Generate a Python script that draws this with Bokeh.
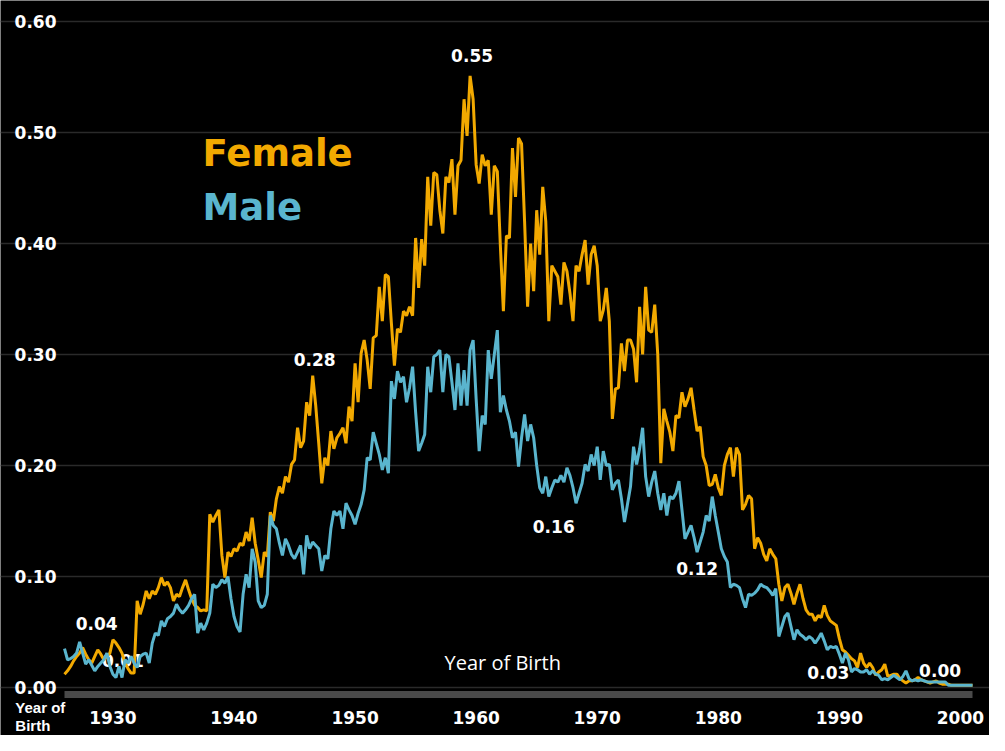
from bokeh.plotting import figure
from bokeh.models import Range1d, FixedTicker, NumeralTickFormatter, Label, ColumnDataSource
from bokeh.core.properties import value
from bokeh.embed import file_html
from bokeh.resources import INLINE

# ---------------- data (quarterly, year of birth) ----------------
start_year = 1926
step = 0.25

female = [
    0.012, 0.015, 0.019, 0.024,  # 1926
    0.028, 0.031, 0.036, 0.030,  # 1927
    0.025, 0.022, 0.028, 0.034,  # 1928
    0.030, 0.025, 0.028, 0.031,  # 1929
    0.043, 0.040, 0.036, 0.031,  # 1930
    0.022, 0.017, 0.013, 0.013,  # 1931
    0.078, 0.066, 0.075, 0.087,  # 1932
    0.080, 0.087, 0.084, 0.090,  # 1933
    0.099, 0.092, 0.095, 0.090,  # 1934
    0.078, 0.084, 0.082, 0.090,  # 1935
    0.097, 0.088, 0.080, 0.074,  # 1936
    0.072, 0.069, 0.070, 0.069,  # 1937
    0.156, 0.149, 0.155, 0.160,  # 1938
    0.119, 0.099, 0.122, 0.118,  # 1939
    0.125, 0.123, 0.130, 0.128,  # 1940
    0.140, 0.132, 0.153, 0.130,  # 1941
    0.115, 0.099, 0.122, 0.118,  # 1942
    0.158, 0.150, 0.170, 0.181,  # 1943
    0.175, 0.190, 0.185, 0.201,  # 1944
    0.205, 0.234, 0.216, 0.222,  # 1945
    0.257, 0.245, 0.281, 0.254,  # 1946
    0.220, 0.184, 0.207, 0.200,  # 1947
    0.231, 0.215, 0.225, 0.229,  # 1948
    0.234, 0.220, 0.253, 0.240,  # 1949
    0.292, 0.257, 0.301, 0.313,  # 1950
    0.295, 0.269, 0.315, 0.317,  # 1951
    0.361, 0.330, 0.372, 0.370,  # 1952
    0.328, 0.290, 0.323, 0.320,  # 1953
    0.339, 0.335, 0.343, 0.335,  # 1954
    0.405, 0.360, 0.404, 0.380,  # 1955
    0.460, 0.416, 0.464, 0.462,  # 1956
    0.430, 0.409, 0.460, 0.455,  # 1957
    0.476, 0.426, 0.470, 0.475,  # 1958
    0.530, 0.497, 0.551, 0.530,  # 1959
    0.471, 0.454, 0.480, 0.470,  # 1960
    0.475, 0.426, 0.470, 0.465,  # 1961
    0.398, 0.339, 0.407, 0.405,  # 1962
    0.486, 0.442, 0.495, 0.490,  # 1963
    0.420, 0.343, 0.400, 0.357,  # 1964
    0.430, 0.390, 0.451, 0.420,  # 1965
    0.330, 0.380, 0.375, 0.370,  # 1966
    0.345, 0.383, 0.375, 0.355,  # 1967
    0.330, 0.380, 0.375, 0.390,  # 1968
    0.403, 0.363, 0.390, 0.398,  # 1969
    0.380, 0.330, 0.340, 0.360,  # 1970
    0.330, 0.242, 0.269, 0.270,  # 1971
    0.310, 0.285, 0.313, 0.313,  # 1972
    0.305, 0.275, 0.343, 0.300,  # 1973
    0.361, 0.322, 0.320, 0.345,  # 1974
    0.300, 0.202, 0.251, 0.240,  # 1975
    0.230, 0.213, 0.245, 0.243,  # 1976
    0.266, 0.253, 0.260, 0.270,  # 1977
    0.250, 0.231, 0.235, 0.208,  # 1978
    0.200, 0.182, 0.183, 0.192,  # 1979
    0.180, 0.173, 0.200, 0.210,  # 1980
    0.216, 0.190, 0.216, 0.210,  # 1981
    0.160, 0.165, 0.173, 0.170,  # 1982
    0.125, 0.135, 0.130, 0.120,  # 1983
    0.114, 0.125, 0.120, 0.116,  # 1984
    0.093, 0.078, 0.090, 0.093,  # 1985
    0.085, 0.075, 0.085, 0.093,  # 1986
    0.080, 0.070, 0.066, 0.066,  # 1987
    0.060, 0.065, 0.063, 0.074,  # 1988
    0.065, 0.060, 0.058, 0.056,  # 1989
    0.044, 0.034, 0.032, 0.029,  # 1990
    0.026, 0.024, 0.018, 0.031,  # 1991
    0.022, 0.018, 0.022, 0.018,  # 1992
    0.011, 0.014, 0.016, 0.021,  # 1993
    0.010, 0.011, 0.012, 0.012,  # 1994
    0.008, 0.006, 0.004, 0.006,  # 1995
    0.006, 0.007, 0.009, 0.007,  # 1996
    0.006, 0.005, 0.004, 0.005,  # 1997
    0.006, 0.004, 0.003, 0.003,  # 1998
    0.003, 0.002, 0.002, 0.002,  # 1999
    0.002, 0.002, 0.002, 0.002,  # 2000
    0.002,                       # 2001
]

male = [
    0.035, 0.025, 0.026, 0.028,  # 1926
    0.031, 0.041, 0.031, 0.021,  # 1927
    0.025, 0.020, 0.015, 0.019,  # 1928
    0.022, 0.025, 0.031, 0.019,  # 1929
    0.012, 0.009, 0.019, 0.009,  # 1930
    0.025, 0.022, 0.028, 0.022,  # 1931
    0.018, 0.028, 0.030, 0.031,  # 1932
    0.022, 0.040, 0.049, 0.047,  # 1933
    0.060, 0.055, 0.062, 0.064,  # 1934
    0.067, 0.075, 0.070, 0.067,  # 1935
    0.070, 0.074, 0.080, 0.084,  # 1936
    0.049, 0.058, 0.052, 0.058,  # 1937
    0.067, 0.093, 0.090, 0.092,  # 1938
    0.097, 0.094, 0.100, 0.080,  # 1939
    0.064, 0.055, 0.050, 0.084,  # 1940
    0.102, 0.090, 0.125, 0.113,  # 1941
    0.078, 0.072, 0.074, 0.084,  # 1942
    0.155, 0.146, 0.143, 0.130,  # 1943
    0.119, 0.134, 0.128, 0.120,  # 1944
    0.116, 0.122, 0.128, 0.102,  # 1945
    0.137, 0.125, 0.131, 0.128,  # 1946
    0.125, 0.105, 0.119, 0.116,  # 1947
    0.143, 0.159, 0.155, 0.159,  # 1948
    0.143, 0.166, 0.160, 0.155,  # 1949
    0.147, 0.157, 0.165, 0.178,  # 1950
    0.207, 0.205, 0.230, 0.220,  # 1951
    0.210, 0.196, 0.207, 0.193,  # 1952
    0.276, 0.260, 0.285, 0.275,  # 1953
    0.280, 0.257, 0.270, 0.289,  # 1954
    0.248, 0.213, 0.220, 0.228,  # 1955
    0.289, 0.266, 0.298, 0.300,  # 1956
    0.304, 0.266, 0.300, 0.298,  # 1957
    0.275, 0.250, 0.292, 0.254,  # 1958
    0.286, 0.254, 0.304, 0.313,  # 1959
    0.260, 0.213, 0.245, 0.237,  # 1960
    0.304, 0.278, 0.300, 0.322,  # 1961
    0.248, 0.263, 0.250, 0.240,  # 1962
    0.225, 0.230, 0.199, 0.225,  # 1963
    0.246, 0.222, 0.237, 0.225,  # 1964
    0.200, 0.180, 0.175, 0.190,  # 1965
    0.172, 0.180, 0.187, 0.185,  # 1966
    0.191, 0.185, 0.198, 0.191,  # 1967
    0.180, 0.166, 0.175, 0.184,  # 1968
    0.201, 0.195, 0.210, 0.200,  # 1969
    0.217, 0.187, 0.213, 0.200,  # 1970
    0.201, 0.178, 0.184, 0.187,  # 1971
    0.170, 0.149, 0.165, 0.181,  # 1972
    0.217, 0.201, 0.215, 0.234,  # 1973
    0.190, 0.172, 0.185, 0.195,  # 1974
    0.175, 0.160, 0.175, 0.155,  # 1975
    0.172, 0.170, 0.175, 0.186,  # 1976
    0.160, 0.134, 0.140, 0.146,  # 1977
    0.135, 0.122, 0.131, 0.140,  # 1978
    0.155, 0.150, 0.172, 0.155,  # 1979
    0.140, 0.125, 0.118, 0.113,  # 1980
    0.090, 0.093, 0.092, 0.090,  # 1981
    0.080, 0.072, 0.084, 0.083,  # 1982
    0.085, 0.088, 0.093, 0.091,  # 1983
    0.090, 0.087, 0.083, 0.089,  # 1984
    0.046, 0.055, 0.064, 0.067,  # 1985
    0.055, 0.043, 0.052, 0.048,  # 1986
    0.046, 0.043, 0.046, 0.044,  # 1987
    0.040, 0.044, 0.049, 0.042,  # 1988
    0.034, 0.037, 0.036, 0.037,  # 1989
    0.030, 0.022, 0.031, 0.025,  # 1990
    0.014, 0.017, 0.016, 0.014,  # 1991
    0.014, 0.016, 0.012, 0.015,  # 1992
    0.012, 0.011, 0.007, 0.008,  # 1993
    0.007, 0.009, 0.011, 0.009,  # 1994
    0.007, 0.010, 0.015, 0.008,  # 1995
    0.006, 0.007, 0.006, 0.007,  # 1996
    0.006, 0.005, 0.005, 0.005,  # 1997
    0.005, 0.005, 0.005, 0.005,  # 1998
    0.002, 0.002, 0.002, 0.002,  # 1999
    0.002, 0.002, 0.002, 0.002,  # 2000
    0.002,                       # 2001
]

year_ticks = [1930, 1940, 1950, 1960, 1970, 1980, 1990, 2000]
value_ticks = [0.0, 0.1, 0.2, 0.3, 0.4, 0.5, 0.6]

# value call-outs: which series, at which year, and the printed text
ann_series = ["male", "male", "female", "female", "male", "male", "male", "male"]
ann_year = [1927.25, 1930.25, 1946.5, 1959.5, 1965.5, 1978.25, 1989.5, 1996.5]
ann_text = ["0.04", "0.01", "0.28", "0.55", "0.16", "0.12", "0.03", "0.00"]

# ---------------- styling ----------------
ORANGE = "#F2A900"
BLUE = "#5AB5CE"
years = [start_year + step * i for i in range(len(female))]
x_lo, x_hi = years[0], years[-1]
y_lo, y_hi = value_ticks[0], value_ticks[-1]

# the frame fills the whole canvas; axes sit inside it at fixed data positions
p = figure(width=989, height=735, output_backend="svg", toolbar_location=None,
           x_range=Range1d(1920.714, 2002.40), y_range=Range1d(-0.04324, 0.61892),
           min_border=0)
p.background_fill_color = "black"
p.border_fill_color = "black"
p.outline_line_color = None

p.xgrid.grid_line_color = None
p.ygrid.grid_line_color = "#2a2a2a"
p.ygrid.grid_line_width = 1.5
p.ygrid.ticker = FixedTicker(ticks=value_ticks)
p.ygrid.bounds = (x_lo, x_hi)

p.yaxis.fixed_location = x_lo
p.yaxis.bounds = (y_lo, y_hi)
p.yaxis.ticker = FixedTicker(ticks=value_ticks)
p.yaxis.formatter = NumeralTickFormatter(format="0.00")
p.yaxis.axis_line_color = None
p.yaxis.major_tick_line_color = None
p.yaxis.minor_tick_line_color = None
p.yaxis.major_tick_out = 0
p.yaxis.major_label_standoff = 8
p.yaxis.major_label_text_color = "white"
p.yaxis.major_label_text_font = "DejaVu Sans"
p.yaxis.major_label_text_font_style = "bold"
p.yaxis.major_label_text_font_size = "17px"

p.xaxis.fixed_location = -0.0063
p.xaxis.bounds = (x_lo, x_hi)
p.xaxis.ticker = FixedTicker(ticks=year_ticks)
p.xaxis.axis_line_color = "#4a4a4a"
p.xaxis.axis_line_width = 7
p.xaxis.major_tick_line_color = None
p.xaxis.minor_tick_line_color = None
p.xaxis.major_tick_out = 0
p.xaxis.major_label_standoff = 17
p.xaxis.major_label_text_color = "white"
p.xaxis.major_label_text_font = "DejaVu Sans"
p.xaxis.major_label_text_font_style = "bold"
p.xaxis.major_label_text_font_size = "17px"

# value call-outs anchored to data points
series = {"female": female, "male": male}
ann_val = [series[s][round((y - start_year) / step)] for s, y in zip(ann_series, ann_year)]
ann_dx = [17, 7, 2, 2, 11, 0, -5, 22]
ann_dy = [-18, -17, -16, -20, 33, 16, 25, -10]
ann_src = ColumnDataSource(dict(x=ann_year, y=ann_val, text=ann_text, dx=ann_dx, dy=ann_dy))
p.text(x="x", y="y", text="text", x_offset="dx", y_offset="dy", source=ann_src,
       text_color="white", text_font=value("DejaVu Sans"), text_font_style="bold",
       text_font_size="17px", text_align="center", text_baseline="middle")

p.line(years, female, line_color=ORANGE, line_width=3)
p.line(years, male, line_color=BLUE, line_width=3)

p.add_layout(Label(x=1937.4, y=0.481, text="Female", text_color=ORANGE,
                   text_font="DejaVu Sans", text_font_style="bold", text_font_size="37px",
                   text_baseline="middle"))
p.add_layout(Label(x=1937.4, y=0.4324, text="Male", text_color=BLUE,
                   text_font="DejaVu Sans", text_font_style="bold", text_font_size="37px",
                   text_baseline="middle"))
p.add_layout(Label(x=1962.2, y=0.0229, text="Year of Birth", text_color="white",
                   text_font="Open Sans", text_font_size="20px",
                   text_align="center", text_baseline="middle"))
p.add_layout(Label(x=1921.94, y=-0.0177, text="Year of", text_color="white",
                   text_font="Liberation Sans", text_font_style="bold", text_font_size="15px",
                   text_align="left", text_baseline="middle"))
p.add_layout(Label(x=1921.94, y=-0.0344, text="Birth", text_color="white",
                   text_font="Liberation Sans", text_font_style="bold", text_font_size="15px",
                   text_align="left", text_baseline="middle"))

open("out.html", "w").write(file_html(p, INLINE))
